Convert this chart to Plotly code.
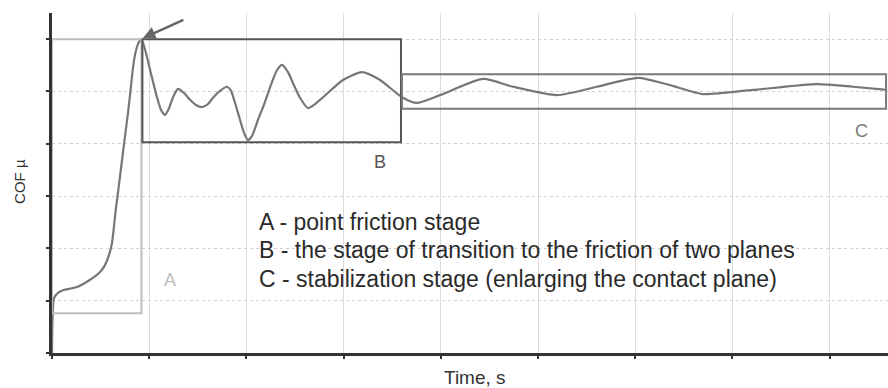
import plotly.graph_objects as go

# COF curve (time in grid units, COF in grid units)
time = [0.0, 0.005, 0.021, 0.062, 0.113, 0.257, 0.391, 0.494, 0.545, 0.586, 0.617, 0.638,
        0.658, 0.700, 0.741, 0.782, 0.813, 0.833, 0.854, 0.874, 0.895, 0.916, 0.936, 0.977,
        1.029, 1.080, 1.121, 1.163, 1.204, 1.245, 1.296, 1.358, 1.420, 1.481, 1.543, 1.605,
        1.656, 1.728, 1.800, 1.842, 1.883, 1.934, 1.975, 2.016, 2.058, 2.119, 2.171, 2.263,
        2.315, 2.366, 2.428, 2.479, 2.551, 2.634, 2.706, 2.788, 2.994, 3.189, 3.374, 3.601,
        3.755, 3.992, 4.434, 4.743, 5.195, 5.607, 6.029, 6.358, 6.698, 7.212, 7.870, 8.241,
        8.591]
cof = [0.0, 0.63, 1.05, 1.15, 1.20, 1.26, 1.40, 1.55, 1.68, 1.87, 2.10, 2.43,
       2.77, 3.38, 4.00, 4.59, 5.11, 5.45, 5.70, 5.85, 5.95, 5.97, 5.93, 5.66,
       5.26, 4.89, 4.65, 4.55, 4.68, 4.89, 5.05, 4.97, 4.84, 4.74, 4.70, 4.76,
       4.88, 5.01, 5.09, 5.01, 4.78, 4.46, 4.21, 4.07, 4.15, 4.46, 4.70, 5.18,
       5.41, 5.51, 5.37, 5.16, 4.88, 4.68, 4.76, 4.89, 5.22, 5.37, 5.22, 4.89,
       4.78, 4.93, 5.24, 5.09, 4.93, 5.09, 5.26, 5.12, 4.95, 5.03, 5.14, 5.09,
       5.03]

# stage boxes: x0, x1, y0, y1
stage_names = ["A", "B", "C"]
box_x0 = [0.0, 0.93, 3.60]
box_x1 = [0.92, 3.59, 8.58]
box_y0 = [0.76, 4.03, 4.67]
box_y1 = [6.0, 6.0, 5.33]
box_colors = ["#bdbdbd", "#555555", "#7a7a7a"]
label_x = [1.21, 3.37, 8.33]
label_y = [1.40, 3.65, 4.25]

legend_lines = ["A - point friction stage",
                "B - the stage of transition to the friction of two planes",
                "C - stabilization stage (enlarging the contact plane)"]
legend_y = [2.50, 1.96, 1.41]

FONT = "Liberation Sans, Arial"

fig = go.Figure()
fig.add_trace(go.Scatter(x=time, y=cof, mode="lines",
                         line=dict(color="#777777", width=2.2, shape="spline", smoothing=0.6),
                         showlegend=False, hoverinfo="skip"))

for i, n in enumerate(stage_names):
    fig.add_shape(type="rect", x0=box_x0[i], x1=box_x1[i], y0=box_y0[i], y1=box_y1[i],
                  line=dict(color=box_colors[i], width=2), layer="above")
    fig.add_annotation(x=label_x[i], y=label_y[i], text=n, showarrow=False,
                       font=dict(family=FONT, size=18, color=box_colors[i]))

for t, yy in zip(legend_lines, legend_y):
    fig.add_annotation(x=2.11, y=yy, xanchor="left", yanchor="middle", align="left",
                       text=t, showarrow=False,
                       font=dict(family=FONT, size=23, color="#2a2a2a"))

# peak arrow
fig.add_annotation(x=0.935, y=6.02, ax=42, ay=-19, text="", showarrow=True,
                   arrowhead=2, arrowsize=1, arrowwidth=2.5, arrowcolor="#666666")
# y axis arrow
fig.add_annotation(x=0, y=6.52, ax=0, ay=25, text="", showarrow=True, xref="x", yref="y",
                   arrowhead=2, arrowsize=1, arrowwidth=2.5, arrowcolor="#333333")

fig.add_annotation(xref="paper", yref="paper", x=0.506, y=-0.0735, yanchor="middle",
                   text="Time, s", showarrow=False,
                   font=dict(family=FONT, size=19, color="#333333"))
fig.add_annotation(xref="paper", yref="paper", x=-0.0383, y=0.506, xanchor="center",
                   yanchor="middle", text="COF µ", showarrow=False, textangle=-90,
                   font=dict(family=FONT, size=15, color="#333333"))

fig.update_layout(
    width=888, height=388, margin=dict(l=52, r=0, t=13, b=35),
    plot_bgcolor="white", paper_bgcolor="white",
    xaxis=dict(range=[0, 8.6], dtick=1, tick0=0, showticklabels=False, ticks="outside",
               ticklen=3, tickwidth=2, tickcolor="#333", showline=True, linecolor="#333",
               linewidth=3, showgrid=True, gridcolor="#dcdcdc", gridwidth=1, zeroline=False),
    yaxis=dict(range=[0, 6.5], dtick=1, tick0=0, showticklabels=False, ticks="outside",
               ticklen=3, tickwidth=2, tickcolor="#333", showline=True, linecolor="#333",
               linewidth=3, showgrid=True, gridcolor="#d0d0d0", gridwidth=1, griddash="dot",
               zeroline=False),
)

fig.write_html("out.html")
